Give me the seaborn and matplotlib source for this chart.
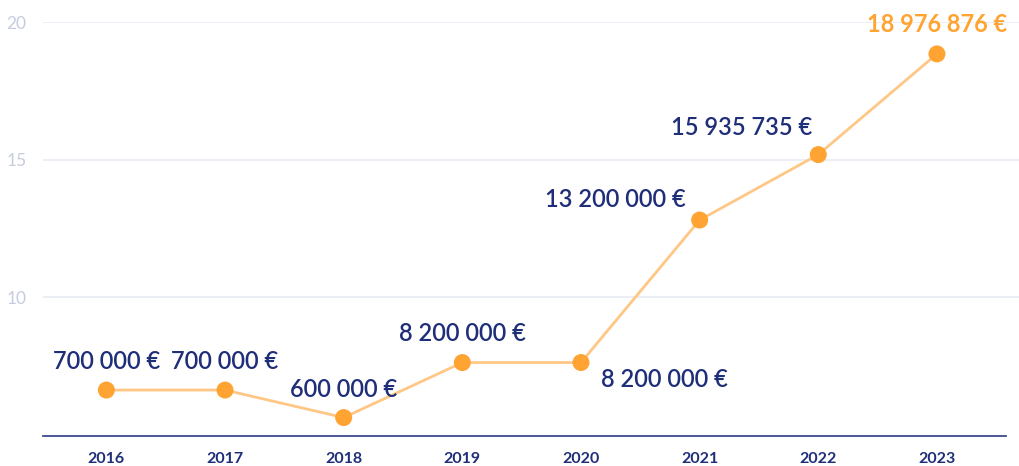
import matplotlib
matplotlib.use("Agg")
import matplotlib.pyplot as plt
import seaborn as sns
import pandas as pd

years = [2016, 2017, 2018, 2019, 2020, 2021, 2022, 2023]
values = [6.62, 6.62, 5.62, 7.62, 7.62, 12.8, 15.18, 18.84]
labels = ["700 000 €", "700 000 €", "600 000 €", "8 200 000 €", "8 200 000 €",
          "13 200 000 €", "15 935 735 €", "18 976 876 €"]
yticks = [10, 15, 20]

sns.set_theme(style="white")
plt.rcParams['font.family'] = ['Lato', 'DejaVu Sans']

NAVY = "#1f2e78"
ORANGE = "#ffa433"
LINE = "#ffc785"
GRID = "#e9ebf3"
YLAB = "#c6cbdf"

df = pd.DataFrame({"year": years, "value": values})

fig = plt.figure(figsize=(10.2, 4.66), dpi=100)
ax = fig.add_axes([43/1020, 1-436/466, 1-43/1020, (436-22)/466])

sns.lineplot(data=df, x="year", y="value", ax=ax, color=LINE, linewidth=2, zorder=3)
sns.scatterplot(data=df, x="year", y="value", ax=ax, color=ORANGE, s=150,
                edgecolor="none", zorder=4)

ax.set_xlim(2015.466, 2023.70)
ax.set_ylim(4.95, 20.0)
ax.set_yticks(yticks)
ax.set_yticklabels([str(t) for t in yticks])
ax.set_xticks(years)
ax.set_xticklabels([str(y) for y in years])
ax.set_xlabel("")
ax.set_ylabel("")

for t in yticks:
    ax.axhline(t, color=GRID, linewidth=1.2, zorder=1)

for s in ["top", "right", "left"]:
    ax.spines[s].set_visible(False)
ax.spines["bottom"].set_color("#3d4b8c")
ax.spines["bottom"].set_linewidth(1.3)
ax.spines["bottom"].set_bounds(2015.466, 2023.58)

ax.tick_params(axis="y", length=0, pad=12, labelsize=12.5, labelcolor=YLAB)
ax.tick_params(axis="x", direction="inout", length=9, width=1.2, color="#3d4b8c",
               pad=7, labelsize=11.5, labelcolor=NAVY)
for lab in ax.get_xticklabels():
    lab.set_fontweight("bold")

offsets = [(0, 29), (0, 29), (0, 28), (0, 29), (83, -17), (-84, 21), (-77, 27), (0, 29)]
for i, (x, y, lab) in enumerate(zip(years, values, labels)):
    last = i == len(years) - 1
    ax.annotate(lab, (x, y), xytext=offsets[i], textcoords="offset pixels",
                ha="center", va="center", fontsize=17,
                fontweight="bold" if last else "semibold",
                color=ORANGE if last else NAVY, annotation_clip=False, zorder=5)

fig.savefig("out.png", dpi=100)
